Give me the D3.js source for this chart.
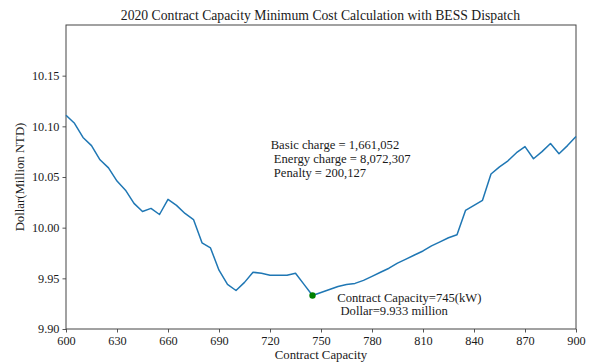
<!DOCTYPE html>
<html>
<head>
<meta charset="utf-8">
<script src="https://cdn.jsdelivr.net/npm/d3@7"></script>
<style>
html,body{margin:0;padding:0;background:#fff;}
</style>
</head>
<body>
<svg id="chart" width="590" height="364"></svg>
<script>
const capacity = d3.range(600, 901, 5);
const dollars = [
  10.111, 10.103, 10.089, 10.081, 10.067, 10.059, 10.046, 10.037, 10.024, 10.016,
  10.019, 10.013, 10.028, 10.022, 10.014, 10.008, 9.985, 9.980, 9.958, 9.944,
  9.938, 9.946, 9.956, 9.955, 9.953, 9.953, 9.953, 9.955, 9.944, 9.933,
  9.936, 9.939, 9.942, 9.944, 9.945, 9.948, 9.952, 9.956, 9.960, 9.965,
  9.969, 9.973, 9.977, 9.982, 9.986, 9.990, 9.993, 10.017, 10.022, 10.027,
  10.053, 10.060, 10.066, 10.074, 10.080, 10.068, 10.075, 10.083, 10.073, 10.081,
  10.090
];
const xTicks = [600, 630, 660, 690, 720, 750, 780, 810, 840, 870, 900];
const yTicks = [9.90, 9.95, 10.00, 10.05, 10.10, 10.15];
const minCapacity = 745;
const minDollar = 9.933;
const titleText = "2020 Contract Capacity Minimum Cost Calculation with BESS Dispatch";
const xLabel = "Contract Capacity";
const yLabel = "Dollar(Million NTD)";
const chargeLines = ["Basic charge = 1,661,052", " Energy charge = 8,072,307", " Penalty = 200,127"];
const minLines = ["Contract Capacity=745(kW)", " Dollar=9.933 million"];

const FONT = '"Liberation Serif", "Times New Roman", Times, "DejaVu Serif", serif';
const TXT = "#1a1a1a";

const svg = d3.select("#chart");
const L = 66, R = 576, T = 25, B = 329;
const x = d3.scaleLinear().domain([600, 900]).range([L, R]);
const y = d3.scaleLinear().domain([9.90, 10.20]).range([B, T]);

// fit a text element's font size to a target width
function fit(sel, target) {
  const n = sel.node();
  const size = parseFloat(sel.attr("font-size"));
  const len = n.getComputedTextLength();
  const s = len > 0 ? size * target / len : size;
  sel.attr("font-size", s);
  return s;
}

// axes
const xAxis = d3.axisBottom(x).tickValues(xTicks).tickFormat(d3.format("d")).tickSize(3.5).tickPadding(3.5);
const yAxis = d3.axisLeft(y).tickValues(yTicks).tickFormat(d3.format(".2f")).tickSize(3.5).tickPadding(3);
const gx = svg.append("g").attr("transform", `translate(0,${B})`).call(xAxis);
const gy = svg.append("g").attr("transform", `translate(${L},0)`).call(yAxis);
[gx, gy].forEach(g => {
  g.attr("font-family", FONT).attr("font-size", 12.2);
  g.select(".domain").remove();
  g.selectAll(".tick line").attr("stroke", "#444").attr("stroke-width", 0.9);
  g.selectAll(".tick text").attr("fill", TXT);
});
// calibrate tick font so "10.15" spans ~27.6px
{
  const t = gy.selectAll(".tick text").filter(d => d === 10.15);
  const len = t.node().getComputedTextLength();
  const s = 12.2 * 27.6 / len;
  gx.attr("font-size", s); gy.attr("font-size", s);
}

// frame
svg.append("rect").attr("x", L).attr("y", T).attr("width", R - L).attr("height", B - T)
  .attr("fill", "none").attr("stroke", "#444").attr("stroke-width", 1);

// line
const line = d3.line().x((d, i) => x(capacity[i])).y(d => y(d));
svg.append("path").datum(dollars).attr("d", line)
  .attr("fill", "none").attr("stroke", "#1f77b4").attr("stroke-width", 1.5)
  .attr("stroke-linejoin", "round");

// min point
svg.append("circle").attr("cx", x(minCapacity)).attr("cy", y(minDollar)).attr("r", 3.2)
  .attr("fill", "#008000");

function txt(xp, yp, size, s, anchor) {
  return svg.append("text").attr("x", xp).attr("y", yp)
    .attr("font-family", FONT).attr("font-size", size).attr("fill", TXT)
    .attr("text-anchor", anchor || "start").style("white-space", "pre").text(s);
}

// title
const title = txt(320.4, 20, 13.5, titleText, "middle");
fit(title, 399.5);
// axis labels
const xl = txt((L + R) / 2, 359, 12.7, xLabel, "middle");
const labelSize = fit(xl, 92.4);
svg.append("text").attr("transform", `translate(24,${(T + B) / 2}) rotate(-90)`)
  .attr("font-family", FONT).attr("fill", TXT)
  .attr("text-anchor", "middle").attr("font-size", labelSize).text(yLabel);

// annotation 1
const a0 = txt(270.7, 149, 12.6, chargeLines[0]);
const annSize = fit(a0, 128.6);
chargeLines.slice(1).forEach((t, i) => txt(270.7, 149 + (i + 1) * 13.9, annSize, t));
// annotation 2
minLines.forEach((t, i) => txt(337.3, 301.7 + i * 13.6, annSize, t));
</script>
</body>
</html>
